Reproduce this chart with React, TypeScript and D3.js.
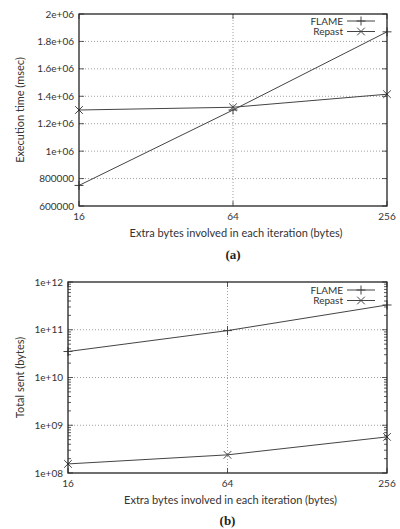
import React from "react";
import * as d3 from "d3";

const xValues = [16, 64, 256];
const xTickLabels = ["16", "64", "256"];

const flameTimeA = [750000, 1300000, 1870000];
const repastTimeA = [1300000, 1320000, 1415000];
const yTicksA = [600000, 800000, 1000000, 1200000, 1400000, 1600000, 1800000, 2000000];
const yTickLabelsA = ["600000", "800000", "1e+06", "1.2e+06", "1.4e+06", "1.6e+06", "1.8e+06", "2e+06"];

const flameSentB = [3.5e10, 9.6e10, 3.3e11];
const repastSentB = [1.55e8, 2.4e8, 5.7e8];
const yTicksB = [1e8, 1e9, 1e10, 1e11, 1e12];
const yTickLabelsB = ["1e+08", "1e+09", "1e+10", "1e+11", "1e+12"];

const seriesNames = ["FLAME", "Repast"];
const xTitle = "Extra bytes involved in each iteration (bytes)";

const FONT = "Lato, 'Open Sans', sans-serif";
const LINE = "#444";

function Marker({ x, y, kind }: { x: number; y: number; kind: string }) {
  const s = 4.5;
  if (kind === "plus") {
    return (
      <g stroke={LINE} strokeWidth={1}>
        <line x1={x - s} y1={y} x2={x + s} y2={y} />
        <line x1={x} y1={y - s} x2={x} y2={y + s} />
      </g>
    );
  }
  const c = 3.8;
  return (
    <g stroke={LINE} strokeWidth={1}>
      <line x1={x - c} y1={y - c} x2={x + c} y2={y + c} />
      <line x1={x - c} y1={y + c} x2={x + c} y2={y - c} />
    </g>
  );
}

type PanelProps = {
  left: number;
  top: number;
  right: number;
  bottom: number;
  yScale: any;
  yTicks: number[];
  yTickLabels: string[];
  minorTicks: number[];
  flame: number[];
  repast: number[];
  yTitle: string;
  caption: string;
  legendY: number;
  xTitleY: number;
  captionY: number;
};

function Panel(p: PanelProps) {
  const x = d3.scaleLog().base(2).domain([16, 256]).range([p.left, p.right]);
  const y = p.yScale;
  const line = d3
    .line<number>()
    .x((_, i) => x(xValues[i]))
    .y((d) => y(d));
  const cx = (p.left + p.right) / 2;
  const cy = (p.top + p.bottom) / 2;
  const legX = 343;
  return (
    <g fontFamily={FONT}>
      {p.yTicks.slice(1, -1).map((t, i) => (
        <line key={"gy" + i} x1={p.left} x2={p.right} y1={y(t)} y2={y(t)} stroke="#888" strokeWidth={0.8} strokeDasharray="1,2" />
      ))}
      {xValues.slice(1, -1).map((t, i) => (
        <line key={"gx" + i} x1={x(t)} x2={x(t)} y1={p.top} y2={p.bottom} stroke="#888" strokeWidth={0.8} strokeDasharray="1,2" />
      ))}
      {p.minorTicks.map((t, i) => (
        <g key={"mt" + i} stroke="#333" strokeWidth={0.8}>
          <line x1={p.left} x2={p.left + 3} y1={y(t)} y2={y(t)} />
          <line x1={p.right} x2={p.right - 3} y1={y(t)} y2={y(t)} />
        </g>
      ))}
      {p.yTicks.map((t, i) => (
        <g key={"yt" + i} stroke="#333" strokeWidth={0.8}>
          <line x1={p.left} x2={p.left + 5} y1={y(t)} y2={y(t)} />
          <line x1={p.right} x2={p.right - 5} y1={y(t)} y2={y(t)} />
        </g>
      ))}
      {xValues.map((t, i) => (
        <g key={"xt" + i} stroke="#333" strokeWidth={0.8}>
          <line x1={x(t)} x2={x(t)} y1={p.bottom} y2={p.bottom - 5} />
          <line x1={x(t)} x2={x(t)} y1={p.top} y2={p.top + 5} />
        </g>
      ))}
      {p.yTicks.map((t, i) => (
        <text key={"yl" + i} x={p.left - 5} y={y(t)} dy="0.35em" textAnchor="end" fontSize={10} fill="#333">
          {p.yTickLabels[i]}
        </text>
      ))}
      {xValues.map((t, i) => (
        <text key={"xl" + i} x={x(t)} y={p.bottom + 14} textAnchor="middle" fontSize={10} fill="#333">
          {xTickLabels[i]}
        </text>
      ))}
      <path d={line(p.flame) || ""} fill="none" stroke={LINE} strokeWidth={1} />
      <path d={line(p.repast) || ""} fill="none" stroke={LINE} strokeWidth={1} />
      {p.flame.map((v, i) => (
        <Marker key={"fm" + i} x={x(xValues[i])} y={y(v)} kind="plus" />
      ))}
      {p.repast.map((v, i) => (
        <Marker key={"rm" + i} x={x(xValues[i])} y={y(v)} kind="cross" />
      ))}
      {seriesNames.map((n, i) => {
        const ly = p.legendY + i * 10.5;
        return (
          <g key={"lg" + i}>
            <text x={legX} y={ly} dy="0.35em" textAnchor="end" fontSize={10} fill="#333">
              {n}
            </text>
            <line x1={legX + 4} x2={legX + 32} y1={ly} y2={ly} stroke={LINE} strokeWidth={1} />
            <Marker x={legX + 18} y={ly} kind={i === 0 ? "plus" : "cross"} />
          </g>
        );
      })}
      <rect x={p.left} y={p.top} width={p.right - p.left} height={p.bottom - p.top} fill="none" stroke="#222" strokeWidth={1.3} />
      <text x={cx + 3} y={p.xTitleY} textAnchor="middle" fontSize={11} fill="#333">
        {xTitle}
      </text>
      <text transform={`translate(${20},${cy}) rotate(-90)`} textAnchor="middle" dy="0.35em" fontSize={11} fill="#333">
        {p.yTitle}
      </text>
      <text x={cx} y={p.captionY} textAnchor="middle" fontSize={13} fontWeight="bold" fontFamily="'Liberation Serif', serif" fill="#222">
        {p.caption}
      </text>
    </g>
  );
}

export default function App() {
  const yA = d3.scaleLinear().domain([600000, 2000000]).range([206, 14]);
  const yB = d3.scaleLog().domain([1e8, 1e12]).range([473, 282]);
  const minorB: number[] = [];
  for (let e = 8; e < 12; e++) {
    for (let m = 2; m <= 9; m++) minorB.push(m * Math.pow(10, e));
  }
  return (
    <svg width={400} height={529} style={{ position: "absolute", left: 0, top: 0, background: "#fff" }}>
      <Panel
        left={79}
        top={14}
        right={387}
        bottom={206}
        yScale={yA}
        yTicks={yTicksA}
        yTickLabels={yTickLabelsA}
        minorTicks={[]}
        flame={flameTimeA}
        repast={repastTimeA}
        yTitle="Execution time (msec)"
        caption="(a)"
        legendY={21}
        xTitleY={237}
        captionY={259}
      />
      <Panel
        left={68}
        top={282}
        right={387}
        bottom={473}
        yScale={yB}
        yTicks={yTicksB}
        yTickLabels={yTickLabelsB}
        minorTicks={minorB}
        flame={flameSentB}
        repast={repastSentB}
        yTitle="Total sent (bytes)"
        caption="(b)"
        legendY={290}
        xTitleY={504}
        captionY={525}
      />
    </svg>
  );
}
